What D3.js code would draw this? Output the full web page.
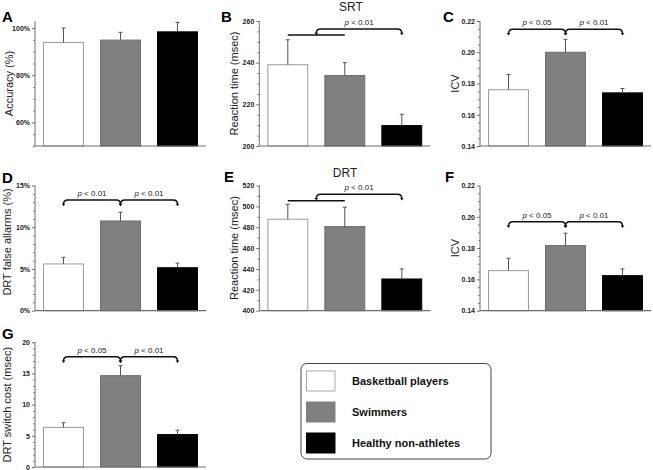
<!DOCTYPE html>
<html>
<head>
<meta charset="utf-8">
<script src="https://cdn.jsdelivr.net/npm/d3@7"></script>
<style>
  html, body { margin: 0; padding: 0; background: #fff; }
  svg { display: block; font-family: "Liberation Sans", Arial, sans-serif; }
</style>
</head>
<body>
<svg id="chart" width="653" height="470"></svg>
<script>
// ---------- data ----------
const groups = ["Basketball players", "Swimmers", "Healthy non-athletes"];
const groupFills = ["#ffffff", "#808080", "#000000"];

const accuracy = [93.9, 94.9, 98.4];
const accuracyErr = [6.1, 3.3, 4.0];
const srt = [239.0, 233.8, 209.8];
const srtErr = [12.0, 6.2, 5.4];
const srtIcv = [0.176, 0.200, 0.174];
const srtIcvErr = [0.0098, 0.0083, 0.0028];
const falseAlarms = [5.6, 10.75, 5.15];
const falseAlarmsErr = [0.8, 1.05, 0.55];
const drt = [487.7, 480.6, 430.4];
const drtErr = [14.3, 18.6, 9.6];
const drtIcv = [0.1656, 0.1816, 0.1624];
const drtIcvErr = [0.0079, 0.0079, 0.0043];
const switchCost = [6.35, 14.65, 5.2];
const switchCostErr = [0.75, 1.6, 0.7];

const accuracyTicks = [60, 80, 100];
const srtTicks = [200, 220, 240, 260];
const icvTicks = [0.14, 0.16, 0.18, 0.20, 0.22];
const falseAlarmTicks = [0, 5, 10, 15];
const drtTicks = [400, 420, 440, 460, 480, 500, 520];
const switchTicks = [0, 5, 10, 15, 20];

const sigSRT = [{ type: "group", label: "0.01" }];
const sigICV1 = [{ from: 0, to: 1, label: "0.05" }, { from: 1, to: 2, label: "0.01" }];
const sigFA = [{ from: 0, to: 1, label: "0.01" }, { from: 1, to: 2, label: "0.01" }];
const sigDRT = [{ type: "group", label: "0.01" }];
const sigICV2 = [{ from: 0, to: 1, label: "0.05" }, { from: 1, to: 2, label: "0.01" }];
const sigSwitch = [{ from: 0, to: 1, label: "0.05" }, { from: 1, to: 2, label: "0.01" }];

// ---------- layout ----------
const pct = d => d + "%";
const f2 = d3.format(".2f");
const plain = d => d;

const panels = [
  { letter: "A", x0: 35, top: 21, bottom: 146, domain: [50, 103], values: accuracy, errs: accuracyErr, ticks: accuracyTicks, minorStep: 5, fmt: pct, title: "Accuracy (%)", titleX: 9, letterX: 2, letterY: 22 },
  { letter: "B", x0: 259.3, top: 21, bottom: 146, domain: [200, 260], values: srt, errs: srtErr, ticks: srtTicks, minorStep: 5, fmt: plain, title: "Reaction time (msec)", titleX: 234, letterX: 221, letterY: 22, head: "SRT", headX: 351, headY: 11, sig: sigSRT, sigY: 29, lineY: 35 },
  { letter: "C", x0: 480, top: 21, bottom: 146, domain: [0.14, 0.22], values: srtIcv, errs: srtIcvErr, ticks: icvTicks, minorStep: 0.005, fmt: f2, title: "ICV", titleX: 455, letterX: 443, letterY: 22, sig: sigICV1, sigY: 29.3 },
  { letter: "D", x0: 35, top: 185.5, bottom: 310.7, domain: [0, 15], values: falseAlarms, errs: falseAlarmsErr, ticks: falseAlarmTicks, minorStep: 1, fmt: pct, title: "DRT false allarms (%)", titleX: 7, titleY: 242, letterX: 2, letterY: 183, sig: sigFA, sigY: 200 },
  { letter: "E", x0: 259.3, top: 185.5, bottom: 310.7, domain: [400, 520], values: drt, errs: drtErr, ticks: drtTicks, minorStep: 10, fmt: plain, title: "Reaction time (msec)", titleX: 234, letterX: 224, letterY: 182, head: "DRT", headX: 345, headY: 177, sig: sigDRT, sigY: 194.3, lineY: 200.7 },
  { letter: "F", x0: 480, top: 185.5, bottom: 310.7, domain: [0.14, 0.22], values: drtIcv, errs: drtIcvErr, ticks: icvTicks, minorStep: 0.005, fmt: f2, title: "ICV", titleX: 455, letterX: 445, letterY: 182, sig: sigICV2, sigY: 221.7 },
  { letter: "G", x0: 35, top: 342.3, bottom: 467, domain: [0, 20], values: switchCost, errs: switchCostErr, ticks: switchTicks, minorStep: 1, fmt: plain, title: "DRT switch cost (msec)", titleX: 7, letterX: 2, letterY: 339, sig: sigSwitch, sigY: 356.7 }
];

const svg = d3.select("#chart");
const axisColor = "#6e6e6e";

function brace(g, x1, x2, y) {
  const h = 4.2;
  g.append("path")
    .attr("d", `M${x1},${y + h} Q${x1},${y} ${x1 + h},${y} L${x2 - h},${y} Q${x2},${y} ${x2},${y + h}`)
    .attr("fill", "none").attr("stroke", "#111").attr("stroke-width", 1.4);
  [x1, x2].forEach(x => {
    g.append("path")
      .attr("d", `M${x - 1.8},${y + h - 0.5} L${x + 1.8},${y + h - 0.5} L${x},${y + h + 2} Z`)
      .attr("fill", "#111");
  });
}

function pLabel(g, x, y, val) {
  const t = g.append("text").attr("x", x).attr("y", y).attr("text-anchor", "middle")
    .attr("font-size", 8).attr("fill", "#222");
  t.append("tspan").attr("font-style", "italic").text("p");
  t.append("tspan").text(" < " + val);
}

panels.forEach(p => {
  const g = svg.append("g");
  const x = d3.scaleBand().domain(groups).range([p.x0, p.x0 + 171]).paddingInner(0.3).paddingOuter(0.15);
  const y = d3.scaleLinear().domain(p.domain).range([p.bottom, p.top]);

  // minor ticks
  const minor = d3.range(p.domain[0], p.domain[1] + 1e-9, p.minorStep)
    .filter(v => !p.ticks.some(t => Math.abs(t - v) < 1e-9));
  const minorAxis = d3.axisLeft(y).tickValues(minor).tickSize(1.8).tickFormat("");
  g.append("g").attr("transform", `translate(${p.x0},0)`).call(minorAxis)
    .call(s => s.select(".domain").remove())
    .call(s => s.selectAll("line").attr("stroke", axisColor));

  // major axis
  const axis = d3.axisLeft(y).tickValues(p.ticks).tickSize(3).tickSizeOuter(0).tickPadding(2).tickFormat(p.fmt);
  const ag = g.append("g").attr("transform", `translate(${p.x0},0)`).call(axis);
  ag.select(".domain").attr("stroke", axisColor).attr("d", `M0,${p.bottom}V${p.top}`);
  ag.selectAll("line").attr("stroke", axisColor);
  ag.selectAll("text").attr("font-size", 7).attr("font-weight", "bold").attr("fill", "#222")
    .attr("font-family", "'Liberation Sans', Arial, sans-serif");

  // bars
  const data = groups.map((gr, i) => ({ gr, v: p.values[i], e: p.errs[i], i }));
  g.selectAll("rect.bar").data(data).enter().append("rect")
    .attr("class", "bar")
    .attr("x", d => x(d.gr)).attr("width", x.bandwidth())
    .attr("y", d => y(d.v)).attr("height", d => p.bottom - y(d.v))
    .attr("fill", d => groupFills[d.i])
    .attr("stroke", d => d.i === 0 ? "#9a9a9a" : (d.i === 1 ? "#6c6c6c" : "#000"))
    .attr("stroke-width", 1);

  // error bars
  data.forEach(d => {
    const cx = x(d.gr) + x.bandwidth() / 2;
    g.append("line").attr("x1", cx).attr("x2", cx).attr("y1", y(d.v)).attr("y2", y(d.v + d.e))
      .attr("stroke", "#555").attr("stroke-width", 1);
    g.append("line").attr("x1", cx - 2).attr("x2", cx + 2).attr("y1", y(d.v + d.e)).attr("y2", y(d.v + d.e))
      .attr("stroke", "#555").attr("stroke-width", 1);
  });

  // x baseline
  g.append("line").attr("x1", p.x0).attr("x2", p.x0 + 171).attr("y1", p.bottom).attr("y2", p.bottom)
    .attr("stroke", axisColor).attr("stroke-width", 1.2);

  // titles
  const ty = p.titleY !== undefined ? p.titleY : (p.top + p.bottom) / 2;
  g.append("text").attr("transform", `translate(${p.titleX + 4},${ty}) rotate(-90)`)
    .attr("text-anchor", "middle").attr("font-size", 11).attr("fill", "#222").text(p.title);
  g.append("text").attr("x", p.letterX).attr("y", p.letterY).attr("font-size", 15)
    .attr("font-weight", "bold").attr("fill", "#000").text(p.letter);
  if (p.head) {
    g.append("text").attr("x", p.headX).attr("y", p.headY).attr("text-anchor", "middle")
      .attr("font-size", 12).attr("fill", "#222").text(p.head);
  }

  // significance
  const cxs = groups.map(gr => x(gr) + x.bandwidth() / 2);
  if (p.sig) {
    p.sig.forEach(s => {
      if (s.type === "group") {
        g.append("line").attr("x1", cxs[0]).attr("x2", cxs[1]).attr("y1", p.lineY).attr("y2", p.lineY)
          .attr("stroke", "#111").attr("stroke-width", 1.5);
        const xm = (cxs[0] + cxs[1]) / 2;
        brace(g, xm, cxs[2], p.sigY);
        pLabel(g, (xm + cxs[2]) / 2, p.sigY - 4, s.label);
      } else {
        brace(g, cxs[s.from], cxs[s.to], p.sigY);
        pLabel(g, (cxs[s.from] + cxs[s.to]) / 2, p.sigY - 4, s.label);
      }
    });
  }
});

// ---------- legend ----------
const lg = svg.append("g");
lg.append("rect").attr("x", 301).attr("y", 363.5).attr("width", 190).attr("height", 95.5)
  .attr("rx", 6).attr("fill", "#fff").attr("stroke", "#444").attr("stroke-width", 1);
const ly = d3.scalePoint().domain(groups).range([381, 443]);
groups.forEach((gr, i) => {
  lg.append("rect").attr("x", 306.5).attr("y", ly(gr) - 10).attr("width", 28.5).attr("height", 20)
    .attr("fill", groupFills[i]).attr("stroke", i === 0 ? "#aaa" : groupFills[i]).attr("stroke-width", 1);
  lg.append("text").attr("x", 352).attr("y", ly(gr) + 4).attr("font-size", 11).attr("font-weight", "bold")
    .attr("fill", "#111").text(gr);
});
</script>
</body>
</html>
